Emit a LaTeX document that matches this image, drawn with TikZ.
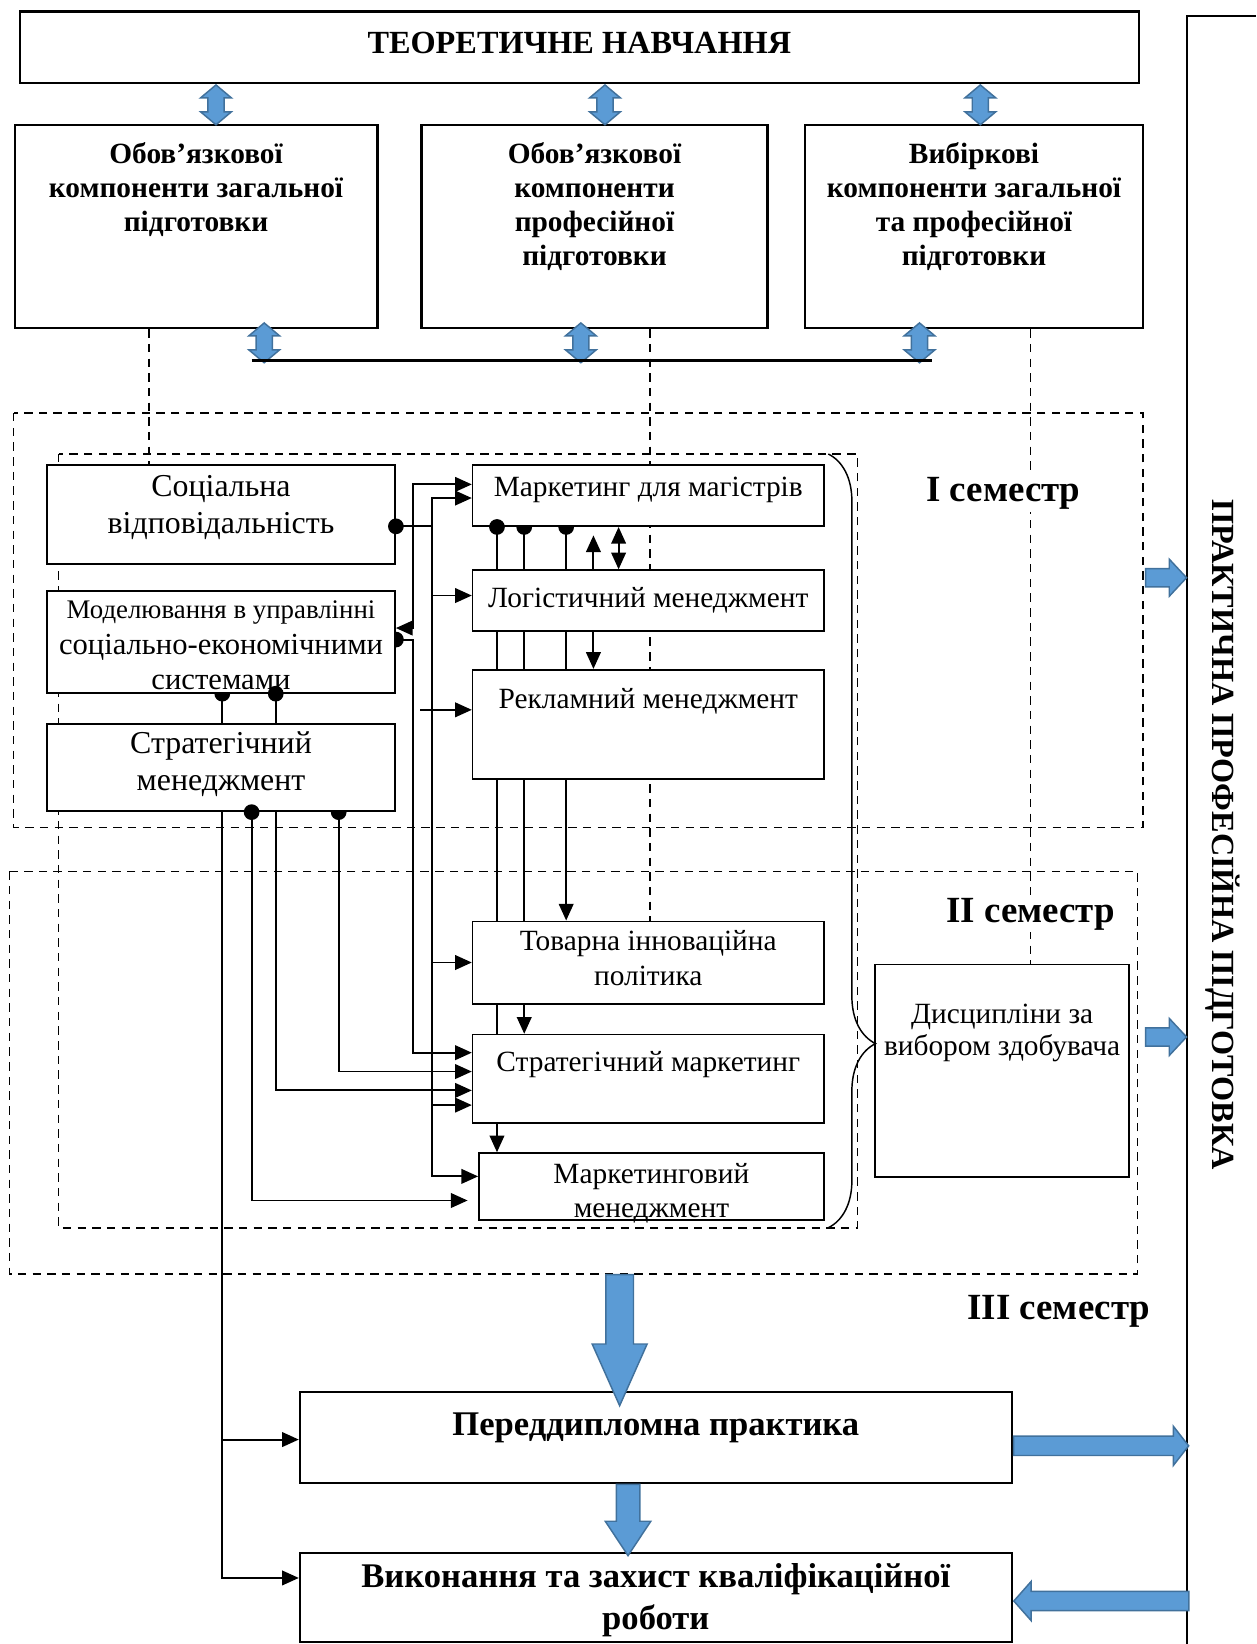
\documentclass[tikz,border=0pt]{standalone}
\usepackage{fontspec}
\setmainfont{Liberation Serif}
\usetikzlibrary{arrows.meta, shapes.arrows, decorations.pathreplacing, positioning}
\definecolor{bluefill}{HTML}{5B9BD5}
\definecolor{blueedge}{HTML}{41719C}
\newlength{\du}\setlength{\du}{0.5pt}
% box contents: width, height, first baseline, text (in picture units)
\newcommand{\boxtext}[4]{\parbox[c][#2\du][t]{#1\du}{\centering\rule{0pt}{#3\du}#4}}
\pgfdeclarelayer{bg}
\pgfsetlayers{bg,main}
\tikzset{
  course/.style={draw, fill=white, line width=0.8pt, inner sep=0pt, anchor=north west, font=\fontsize{14}{17}\selectfont},
  block/.style={course, line width=1pt, font=\fontsize{14}{16.2}\selectfont\bfseries},
  sem/.style={fill=white, inner sep=1pt, font=\fontsize{17.6}{20}\selectfont\bfseries},
  frame/.style={dash pattern=on 4pt off 3pt, line width=0.7pt},
  link/.style={line width=0.9pt},
  dot/.style={circle, fill, inner sep=0pt, minimum size=7.5pt},
  dblue/.style={double arrow, draw=blueedge, fill=bluefill, line width=0.7pt, inner xsep=0pt, inner ysep=3.5pt, minimum height=19pt, double arrow head extend=3.5pt, double arrow tip angle=100, rotate=90},
  sblue/.style={single arrow, draw=blueedge, fill=bluefill, line width=0.7pt, inner xsep=0pt, anchor=tail}
}

\begin{document}
\begin{tikzpicture}[x=0.5pt, y=-0.5pt, >={Triangle[length=8pt,width=7pt]}]
    \useasboundingbox (0,0) rectangle (1198,1568);

    % theory
    \node[block, font=\fontsize{15.4}{17}\selectfont\bfseries] (teor) at (18,10) {\boxtext{1067}{68}{40}{ТЕОРЕТИЧНЕ НАВЧАННЯ}};
    \node[block] (obzag) at (13,118) {\boxtext{346}{194}{37}{Обов’язкової\\компоненти загальної\\підготовки}};
    \node[block] (obprof) at (401,118) {\boxtext{330}{194}{37}{Обов’язкової\\компоненти\\професійної\\підготовки}};
    \node[block] (vybir) at (767,118) {\boxtext{322}{194}{37}{Вибіркові\\компоненти загальної\\та професійної\\підготовки}};

    % courses
    \node[course, font=\fontsize{15.2}{17.5}\selectfont] (soc) at (44,443) {\boxtext{332}{94}{30}{Соціальна\\відповідальність}};
    \node[course, font=\fontsize{14.6}{17}\selectfont] (model) at (44,563) {\boxtext{332}{97}{26}{{\fontsize{12.8}{17}\selectfont Моделювання в управлінні}\\соціально-економічними\\системами}};
    \node[course, font=\fontsize{15.2}{17.5}\selectfont] (strmen) at (44,690) {\boxtext{332}{83}{28}{Стратегічний\\менеджмент}};
    \node[course] (mmag) at (450,443) {\boxtext{335}{58}{30}{Маркетинг для магістрів}};
    \node[course] (logist) at (450,543) {\boxtext{335}{58}{36}{Логістичний менеджмент}};
    \node[course] (reklam) at (450,638) {\boxtext{335}{104}{37}{Рекламний менеджмент}};
    \node[course, font=\fontsize{14}{16.5}\selectfont] (tovar) at (450,878) {\boxtext{335}{79}{28}{Товарна інноваційна\\політика}};
    \node[course] (strmark) at (450,986) {\boxtext{335}{84}{35}{Стратегічний маркетинг}};
    \node[course, font=\fontsize{14}{16}\selectfont] (mmen) at (456,1099) {\boxtext{329}{64}{29}{Маркетинговий\\менеджмент}};
    \node[course, font=\fontsize{14}{15.5}\selectfont] (vybor) at (834,919) {\boxtext{242}{203}{56}{Дисципліни за\\вибором здобувача}};

    % practice and thesis
    \node[block, font=\fontsize{16.5}{20}\selectfont\bfseries] (pdp) at (285,1327) {\boxtext{679}{86}{41}{Переддипломна практика}};
    \node[block, font=\fontsize{16.5}{20}\selectfont\bfseries] (kvr) at (285,1480) {\boxtext{679}{85}{33}{Виконання та захист кваліфікаційної\\роботи}};

    \node[sem] (sem1) at (957,471) {I семестр};
    \node[sem] (sem2) at (983,872) {II семестр};
    \node[sem] (sem3) at (1010,1251) {III семестр};
    \node[font=\fontsize{15.4}{17}\selectfont\bfseries, rotate=-90] (praktyka) at (1166,796) {ПРАКТИЧНА ПРОФЕСІЙНА ПІДГОТОВКА};
    \draw[line width=0.8pt] (1198,15) -- (1132,15) -- (1132,1568);

    % blue arrows
    \foreach \x in {206,577,935} \node[dblue] (up\x) at (\x,100) {};
    \foreach \x in {252,554,877} \node[dblue] (bus\x) at (\x,327) {};
    \draw[line width=1.6pt] (240,344) -- (889,344);
    \node[sblue, rotate=-90, minimum height=62.5pt, inner ysep=6.25pt, single arrow head extend=6.5pt, single arrow tip angle=48] (down1) at (591,1215) {};
    \node[sblue, rotate=-90, minimum height=34pt, inner ysep=5.25pt, single arrow head extend=5.25pt, single arrow tip angle=67] (down2) at (pdp.south -| 599,0) {};
    \node[sblue, minimum height=83.5pt, inner ysep=4.25pt, single arrow head extend=4.75pt, single arrow tip angle=104] (toprak) at (pdp.east |- 0,1379) {};
    \node[sblue, anchor=tip, rotate=180, minimum height=83.5pt, inner ysep=4.25pt, single arrow head extend=4.75pt, single arrow tip angle=97] (fromprak) at (kvr.east |- 0,1527) {};
    \foreach \y in {551,989} \node[sblue, minimum height=19.5pt, inner ysep=4pt, single arrow head extend=4.5pt, single arrow tip angle=94] (sem\y) at (1092,\y) {};

    \draw[line width=0.7pt, decorate, decoration={brace, amplitude=22.5pt, aspect=0.762}] (790,433) -- (790,1171);

    \begin{pgfonlayer}{bg}
        % semesters
        \draw[frame] (13,394) rectangle (1090,789);
        \draw[frame] (9,831) rectangle (1085,1215);
        \draw[frame] (56,433) rectangle (818,1171);
        \draw[frame] (obzag.south -| 142,0) -- (soc.north -| 142,0);
        \draw[frame] (obprof.south -| 620,0) -- (tovar.north -| 620,0);
        \draw[frame] (vybir.south -| 983,0) -- (vybor.north -| 983,0);

        % links between courses
        \draw[link, ->] (soc.east |- 0,502) -| (412,475) -- (mmag.west |- 0,475);
        \draw[link, ->] (412,502) |- (mmen.west |- 0,1122);
        \foreach \y/\t in {568/logist, 918/tovar, 1054/strmark}
            \draw[link, ->] (412,\y) -- (\t.west |- 0,\y);
        \draw[link, <->] (model.east |- 0,599) -| (394,462) -- (mmag.west |- 0,462);
        \draw[link, ->] (model.east |- 0,610) -| (394,1004) -- (strmark.west |- 0,1004);
        \coordinate (rekin) at (401,677);
        \draw[link, ->] (rekin) -- (reklam.west |- rekin);

        \draw[link, ->] (mmag.south -| 474,0) -- (mmen.north -| 474,0);
        \draw[link, ->] (mmag.south -| 500,0) -- (strmark.north -| 500,0);
        \draw[link, ->] (mmag.south -| 540,0) -- (tovar.north -| 540,0);
        \draw[link, ->, shorten >=4pt] (logist.north -| 566,0) -- (mmag.south -| 566,0);
        \draw[link, <->] (mmag.south -| 590,0) -- (logist.north -| 590,0);
        \draw[link, ->] (logist.south -| 566,0) -- (reklam.north -| 566,0);

        \draw[link, ->] (model.south -| 212,0) |- (kvr.west |- 0,1505);
        \draw[link, ->] (212,1373) -- (pdp.west |- 0,1373);
        \draw[link, ->] (model.south -| 263,0) |- (strmark.west |- 0,1040);
        \draw[link, ->, shorten >=5pt] (strmen.south -| 240,0) |- (mmen.west |- 0,1145);
        \draw[link, ->] (strmen.south -| 323,0) |- (strmark.west |- 0,1022);

        \foreach \p in {{mmag.south -| 500,0}, {mmag.south -| 540,0}, {model.east |- 0,610}, {model.south -| 212,0}, {strmen.south -| 323,0}}
            \node[dot] at (\p) {};
    \end{pgfonlayer}

    \foreach \p in {{soc.east |- 0,502}, {mmag.south -| 474,0}, {model.south -| 263,0}, {strmen.south -| 240,0}}
        \node[dot] at (\p) {};

\end{tikzpicture}
\end{document}
